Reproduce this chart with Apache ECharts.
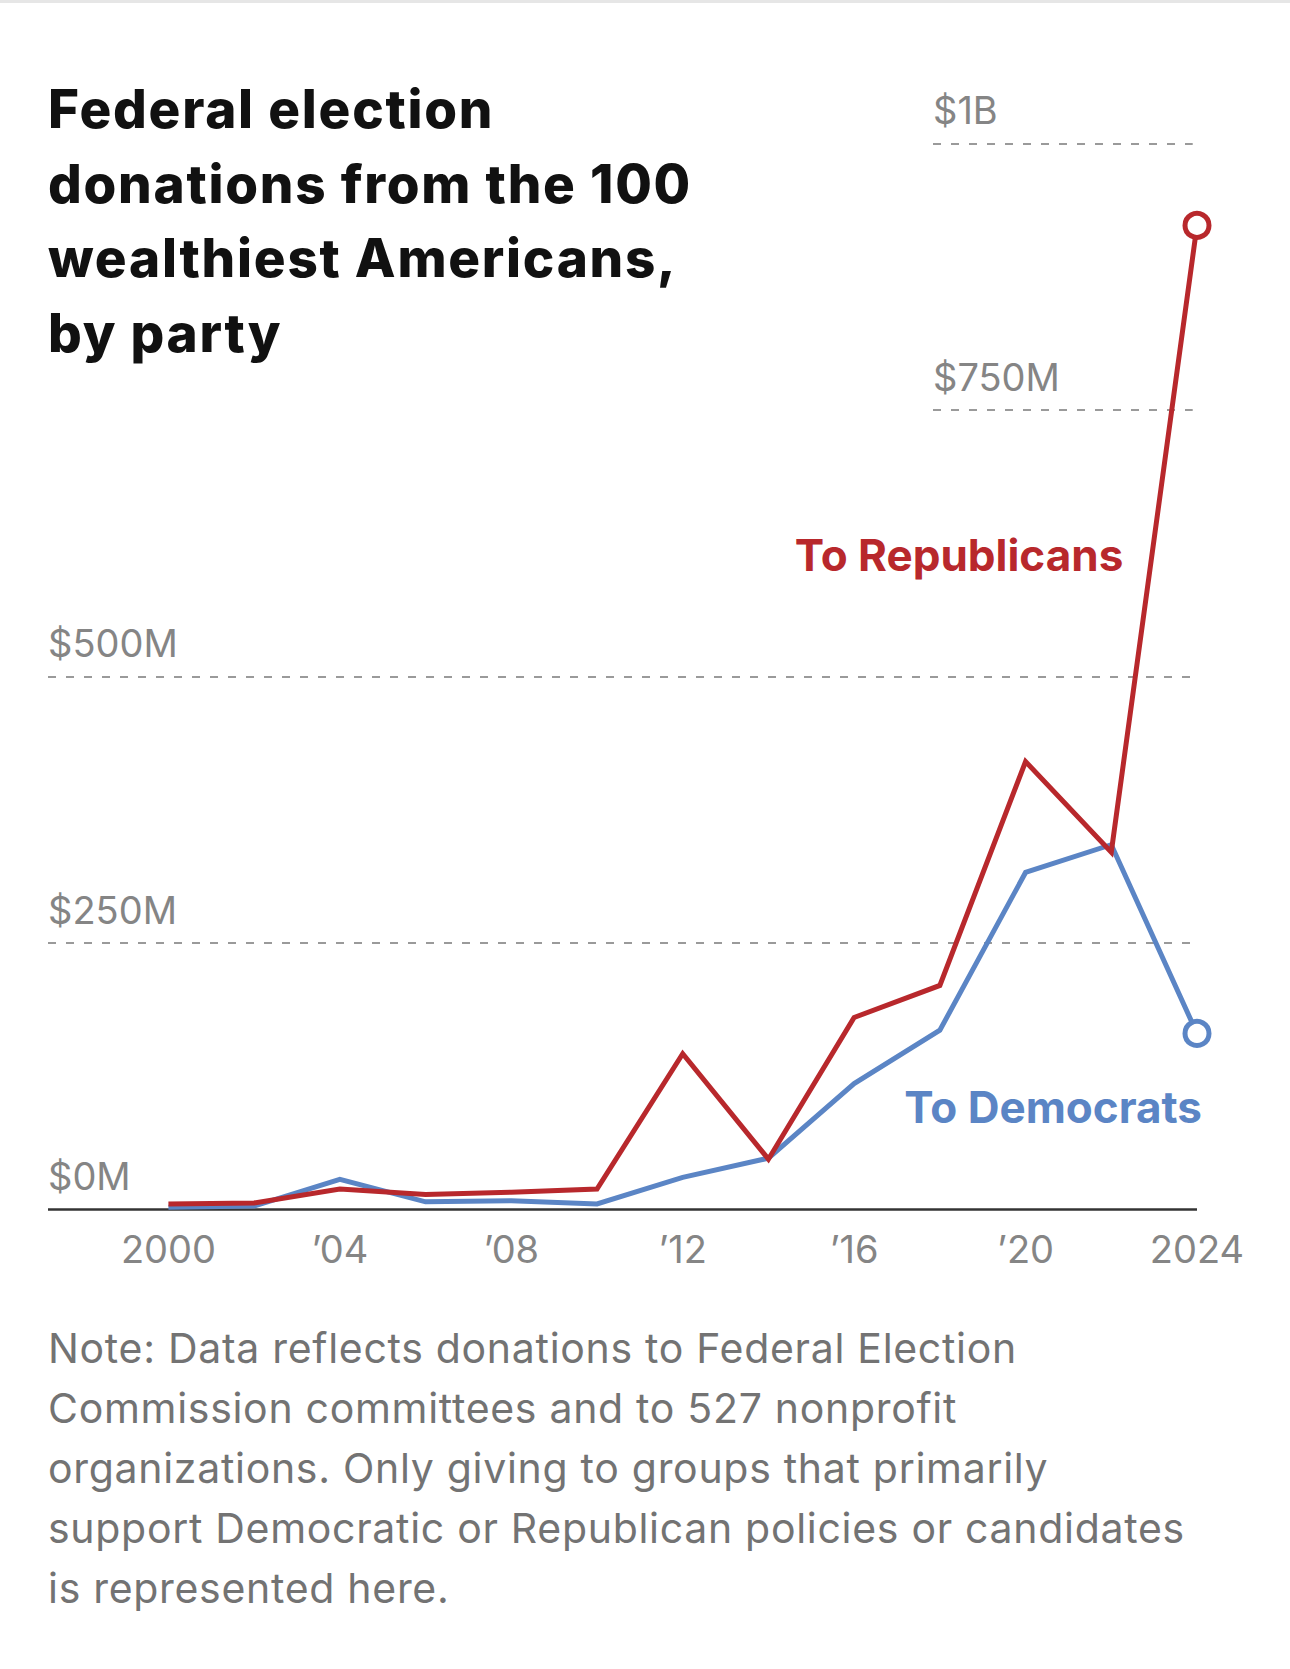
<!DOCTYPE html>
<html>
<head>
<meta charset="utf-8">
<script src="https://cdn.jsdelivr.net/npm/echarts@6/dist/echarts.min.js"></script>
<style>
  html, body { margin: 0; padding: 0; background: #fff; }
  body { width: 1290px; height: 1669px; position: relative; overflow: hidden; }
  #topbar { position: absolute; left: 0; top: 0; width: 1290px; height: 3px; background: #e6e6e6; }
  #chart { position: absolute; left: 0; top: 0; width: 1290px; height: 1669px; }
  #title { position: absolute; left: 48px; top: 72px; font-family: Inter, sans-serif; font-weight: 800;
           font-size: 53px; line-height: 74.5px; color: #111; z-index: 2; letter-spacing: 1.75px; }
  #note { position: absolute; left: 48px; top: 1318px; font-family: Inter, sans-serif; font-weight: 400;
          font-size: 41px; line-height: 60px; color: #737373; z-index: 2; letter-spacing: 0.7px; }
</style>
</head>
<body>
<div id="topbar"></div>
<div id="chart"></div>
<div id="title">Federal election<br>donations from the 100<br>wealthiest Americans,<br>by party</div>
<div id="note">Note: Data reflects donations to Federal Election<br>Commission committees and to 527 nonprofit<br>organizations. Only giving to groups that primarily<br>support Democratic or Republican policies or candidates<br>is represented here.</div>
<script>
// ---- data (millions of dollars) ----
const years = [2000, 2002, 2004, 2006, 2008, 2010, 2012, 2014, 2016, 2018, 2020, 2022, 2024];
const republicans = [5, 6, 19, 14, 16, 19, 146, 47, 180, 210, 420, 335, 923];
const democrats = [2, 3, 28, 7, 8, 5, 30, 48, 118, 168, 316, 342, 165];
const xTickValues = [2000, 2004, 2008, 2012, 2016, 2020, 2024];
const xTickLabels = ['2000', '\u201904', '\u201908', '\u201912', '\u201916', '\u201920', '2024'];
const yTickValues = [0, 250, 500, 750, 1000];
const yTickLabels = ['$0M', '$250M', '$500M', '$750M', '$1B'];

const RED = '#b8282c';
const BLUE = '#5b85c5';
const GRAY = '#858585';
const FONT = 'Inter';
const X_MIN = 1997.19, X_MAX = 2024;
const SHORT_START = 2017.84, GRID_END = 2023.9;

function pairs(vals) {
  return vals.map((v, i) => {
    const item = { value: [years[i], v], symbol: 'none' };
    if (i === vals.length - 1) {
      item.symbol = 'circle';
      item.symbolSize = 24;
    }
    return item;
  });
}

const gridLines = yTickValues.map((v, i) => {
  const start = v >= 750 ? SHORT_START : X_MIN;
  const isZero = v === 0;
  return [
    {
      coord: [start, v],
      lineStyle: isZero ? { color: '#333', width: 2.5, type: 'solid' } : { color: '#9a9a9a', width: 2, type: [8, 10] },
      label: {
        show: true, position: 'insideStartTop', formatter: yTickLabels[i], distance: [0, 14],
        color: GRAY, fontFamily: FONT, fontSize: 38, fontWeight: 400
      }
    },
    { coord: [isZero ? X_MAX : GRID_END, v] }
  ];
});

const chart = echarts.init(document.getElementById('chart'), null, { renderer: 'svg' });
chart.setOption({
  animation: false,
  grid: { left: 48, right: 93, top: 143.3, bottom: 459.7, containLabel: false },
  xAxis: {
    type: 'value', min: X_MIN, max: X_MAX,
    axisLine: { show: false }, axisTick: { show: false }, splitLine: { show: false },
    axisLabel: {
      customValues: xTickValues,
      formatter: v => xTickLabels[xTickValues.indexOf(v)] || '',
      color: GRAY, fontFamily: FONT, fontSize: 38, margin: 21
    }
  },
  yAxis: {
    type: 'value', min: 0, max: 1000, interval: 250,
    axisLine: { show: false }, axisTick: { show: false }, splitLine: { show: false }, axisLabel: { show: false }
  },
  series: [
    {
      name: 'To Democrats', type: 'line', data: pairs(democrats), z: 3, clip: false,
      lineStyle: { color: BLUE, width: 5, join: 'miter', miterLimit: 10 },
      itemStyle: { color: '#fff', borderColor: BLUE, borderWidth: 5 },
      markPoint: {
        symbol: 'rect', symbolSize: 1, itemStyle: { color: 'rgba(0,0,0,0)' },
        data: [{ coord: [2024, 80] }],
        label: { show: true, formatter: 'To Democrats', position: 'inside', align: 'right', verticalAlign: 'bottom',
                 offset: [5, 5], color: BLUE, fontFamily: FONT, fontWeight: 700, fontSize: 44, letterSpacing: 0.5 }
      }
    },
    {
      name: 'To Republicans', type: 'line', data: pairs(republicans), z: 4, clip: false,
      lineStyle: { color: RED, width: 5, join: 'miter', miterLimit: 10 },
      itemStyle: { color: '#fff', borderColor: RED, borderWidth: 5 },
      markLine: { silent: true, symbol: ['none', 'none'], data: gridLines, z: 1 },
      markPoint: {
        symbol: 'rect', symbolSize: 1, itemStyle: { color: 'rgba(0,0,0,0)' },
        data: [{ coord: [2022.28, 600] }],
        label: { show: true, formatter: 'To Republicans', position: 'inside', align: 'right', verticalAlign: 'bottom',
                 offset: [0, 7], color: RED, fontFamily: FONT, fontWeight: 700, fontSize: 44, letterSpacing: 0.5 }
      }
    }
  ]
});
</script>
</body>
</html>
